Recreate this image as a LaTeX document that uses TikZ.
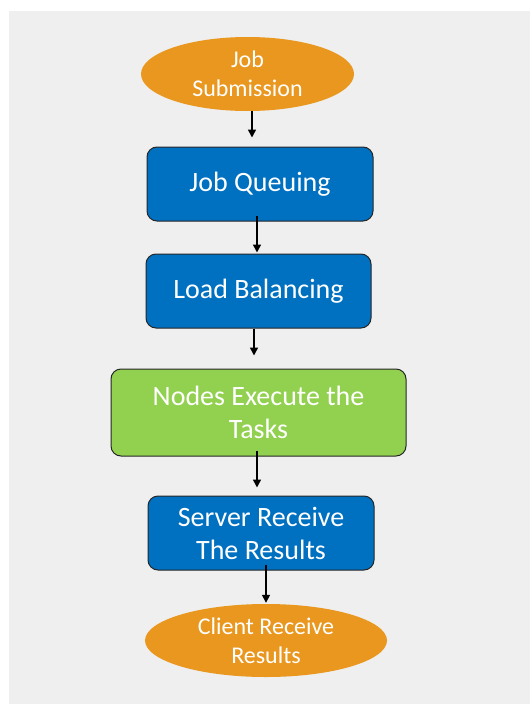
\documentclass[tikz,border=0pt]{standalone}
\usepackage{fontspec}
\setmainfont{Carlito}
\usetikzlibrary{shapes.geometric,arrows.meta,calc}
\definecolor{bgc}{HTML}{EFEFEF}
\definecolor{boxblue}{HTML}{0070C0}
\definecolor{boxgreen}{HTML}{92D050}
\definecolor{ovalorange}{HTML}{E9971E}
\begin{document}
\begin{tikzpicture}[x=1pt,y=-1pt,
  bluebox/.style={draw=black!85,line width=1pt,fill=boxblue,rounded corners=10pt,text=white,
    align=center,inner sep=0pt,font=\fontsize{28}{33}\selectfont},
  greenbox/.style={bluebox,fill=boxgreen},
  oval/.style={ellipse,fill=ovalorange,text=white,align=center,inner sep=0pt,
    font=\fontsize{24}{30}\selectfont},
  arr/.style={-{Triangle[length=8pt,width=8pt]},line width=1.5pt,black}]
\useasboundingbox (0,0) rectangle (531,704);
\fill[white] (0,0) rectangle (531,704);
\fill[bgc] (9,11) rectangle (530,704);

\node[oval,minimum width=213pt,minimum height=74pt] (sub) at (247.5,74) {Job\\[-1pt]Submission};
\node[bluebox,minimum width=226pt,minimum height=74pt] (queue) at (260,184) {Job Queuing};
\node[bluebox,minimum width=225pt,minimum height=74pt] (load) at (258.5,291) {Load Balancing};
\node[greenbox,minimum width=295pt,minimum height=87pt] (exec) at (258.5,412.5) {Nodes Execute the\\Tasks};
\node[bluebox,minimum width=226pt,minimum height=74pt] (server) at (261,533) {Server Receive\\The Results};
\node[oval,minimum width=242pt,minimum height=73pt] (client) at (266,640.5) {Client Receive\\[-1pt]Results};

\draw[arr] ([xshift=4.5pt]sub.south) -- ([xshift=-8pt,yshift=9pt]queue.north);
\draw[arr] ([xshift=-3pt,yshift=6pt]queue.south) -- ([xshift=-1.5pt,yshift=1pt]load.north);
\draw[arr] ([xshift=-4.5pt]load.south) -- ([xshift=-4.5pt,yshift=13pt]exec.north);
\draw[arr] ([xshift=-1.5pt,yshift=6pt]exec.south) -- ([xshift=-4pt,yshift=8pt]server.north);
\draw[arr] ([xshift=5pt,yshift=6pt]server.south) -- ([yshift=1pt]client.north);
\end{tikzpicture}
\end{document}
